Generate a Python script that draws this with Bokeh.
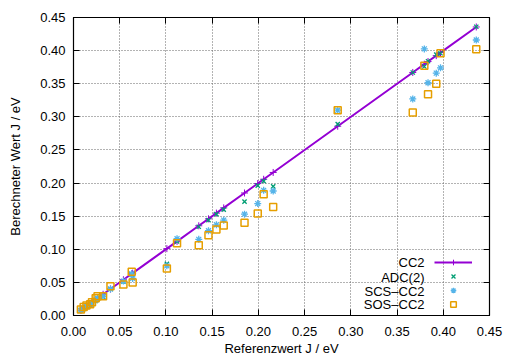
from bokeh.plotting import figure
from bokeh.models import (Range1d, FixedTicker, PrintfTickFormatter, LinearAxis, Legend,
                          LegendItem, Label, CustomJSTickFormatter, Title)
from bokeh.embed import file_html
from bokeh.resources import INLINE

# Reference values (x) and computed values for each method
ref = [0.008, 0.011, 0.014, 0.018, 0.020, 0.024, 0.026, 0.032, 0.040, 0.054,
       0.063, 0.064, 0.101, 0.112, 0.1355, 0.146, 0.1546, 0.1625, 0.185, 0.1993,
       0.2057, 0.216, 0.2858, 0.367, 0.3795, 0.3835, 0.3924, 0.397, 0.4357]
cc2 = [0.008, 0.011, 0.014, 0.018, 0.020, 0.024, 0.026, 0.032, 0.040, 0.054,
       0.063, 0.064, 0.101, 0.112, 0.1355, 0.146, 0.1546, 0.1625, 0.185, 0.1993,
       0.2057, 0.216, 0.2858, 0.367, 0.3795, 0.3835, 0.3924, 0.397, 0.4357]
adc2 = [0.008, 0.010, 0.013, 0.016, 0.018, 0.022, 0.025, 0.028, 0.040, 0.051,
        0.062, 0.058, 0.078, 0.112, 0.134, 0.144, 0.153, 0.160, 0.172, 0.196,
        0.203, 0.195, 0.289, 0.367, 0.376, 0.384, 0.394, 0.396, 0.436]
scs = [0.008, 0.011, 0.014, 0.017, 0.019, 0.023, 0.026, 0.029, 0.040, 0.052,
       0.063, 0.056, 0.075, 0.116, 0.115, 0.128, 0.137, 0.144, 0.153, 0.169,
       0.189, 0.188, 0.310, 0.327, 0.4026, 0.3515, 0.366, 0.374, 0.416]
sos = [0.009, 0.013, 0.015, 0.017, 0.020, 0.026, 0.029, 0.029, 0.044, 0.047,
       0.066, 0.050, 0.071, 0.109, 0.106, 0.121, 0.130, 0.136, 0.140, 0.154,
       0.183, 0.164, 0.310, 0.3065, 0.377, 0.334, 0.350, 0.396, 0.402]

ticks = [0.00, 0.05, 0.10, 0.15, 0.20, 0.25, 0.30, 0.35, 0.40, 0.45]
x_label = "Referenzwert J / eV"
y_label = "Berechneter Wert J / eV"
names = ["CC2", "ADC(2)", "SCS\u2013CC2", "SOS\u2013CC2"]
colors = ["#9400D3", "#009E73", "#56B4E9", "#E69F00"]

FONT = "Liberation Sans"

p = figure(width=505, height=358, output_backend="svg", toolbar_location=None,
           x_range=Range1d(0, 0.45), y_range=Range1d(0, 0.45),
           min_border_left=73, min_border_right=16, min_border_top=17, min_border_bottom=43)
p.background_fill_color = "white"
p.border_fill_color = "white"
p.outline_line_color = "black"
p.outline_line_width = 1.2

for ax in (p.xaxis[0], p.yaxis[0]):
    ax.ticker = FixedTicker(ticks=ticks)
    ax.formatter = PrintfTickFormatter(format="%.2f")
    ax.major_tick_in = 6
    ax.major_tick_out = 0
    ax.minor_tick_in = 0
    ax.minor_tick_out = 0
    ax.major_tick_line_color = "black"
    ax.axis_line_color = "black"
    ax.major_label_text_font = FONT
    ax.major_label_text_font_size = "13px"
    ax.major_label_text_color = "black"
    ax.axis_label_text_font = FONT
    ax.axis_label_text_font_size = "13px"
    ax.axis_label_text_font_style = "normal"
    ax.axis_label_text_color = "black"

p.yaxis[0].axis_label = y_label
p.xaxis[0].major_label_standoff = 11
p.yaxis[0].major_label_standoff = 8
p.yaxis[0].axis_label_standoff = 14

for loc in ("right", "above"):
    ax = LinearAxis(ticker=FixedTicker(ticks=ticks), major_tick_in=6, major_tick_out=0,
                    minor_tick_in=0, minor_tick_out=0,
                    formatter=CustomJSTickFormatter(code="return ''"),
                    major_label_standoff=0, axis_line_color="black", major_tick_line_color="black")
    p.add_layout(ax, loc)

for g in (p.xgrid[0], p.ygrid[0]):
    g.ticker = FixedTicker(ticks=ticks)
    g.grid_line_color = "#666666"
    g.grid_line_dash = "1 2"
    g.grid_line_width = 1

r_line = p.line(ref, cc2, line_color=colors[0], line_width=2)
r_cc2 = p.scatter(ref, cc2, marker="cross", size=7, line_color=colors[0], line_width=1)
r_adc = p.scatter(ref, adc2, marker="x", size=6, line_color=colors[1], line_width=1.3)
r_scs = p.scatter(ref, scs, marker="asterisk", size=7, line_color=colors[2], line_width=1.3)
r_sos = p.scatter(ref, sos, marker="square", size=7, line_color=colors[3], fill_color=None, line_width=1.5)

# x-axis title as a title below the axis (sits a little lower than Bokeh's own axis label)
p.add_layout(Title(text=x_label, align="center", text_font=FONT, text_font_size="13px",
                   text_font_style="normal", text_color="black", standoff=0, offset=0),
             "below")

# Legend samples (glyphs only); the texts are placed to their left, as gnuplot does
legend = Legend(items=[
    LegendItem(label=" ", renderers=[r_line, r_cc2]),
    LegendItem(label=" ", renderers=[r_adc]),
    LegendItem(label=" ", renderers=[r_scs]),
    LegendItem(label=" ", renderers=[r_sos]),
], location=(361, 4), padding=0, spacing=0, margin=0,
    glyph_width=38, glyph_height=14, label_height=14, label_standoff=0,
    label_text_font=FONT, label_text_font_size="9px",
    border_line_color=None, background_fill_alpha=0)
p.add_layout(legend, "center")

row_y = [53, 38, 24, 11]
for name, yy in zip(names, row_y):
    p.add_layout(Label(x=351, y=yy, x_units="screen", y_units="screen", text=name,
                       text_align="right", text_baseline="middle", text_font=FONT,
                       text_font_size="13px", text_color="black"))

open("out.html", "w").write(file_html(p, INLINE))
